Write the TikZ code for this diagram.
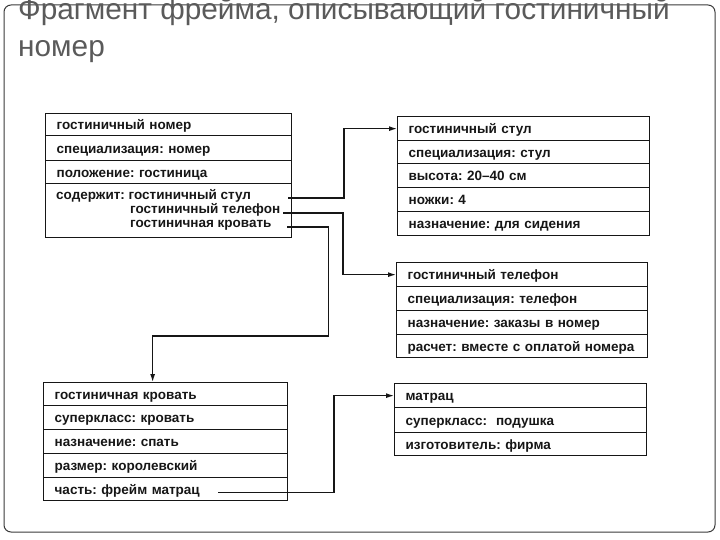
\documentclass[tikz,border=0pt]{standalone}
\usepackage{fontspec}
\setmainfont{Liberation Sans}
\usetikzlibrary{arrows.meta,calc}
\frenchspacing
\definecolor{titlegray}{HTML}{5A5A5A}
\definecolor{ink}{HTML}{161616}
\definecolor{framecol}{HTML}{3A3A3A}
\tikzset{
  frow/.style={draw=ink, line width=1.3pt, anchor=north west, inner xsep=11pt, inner ysep=0pt,
    text height=10pt, text depth=0pt, align=left, text=ink,
    font=\fontsize{13.5}{15}\selectfont\bfseries},
  ftext/.style={anchor=base west, inner sep=0pt, text=ink, font=\fontsize{13.5}{15}\selectfont\bfseries},
  conn/.style={draw=ink, line width=1.2pt, -{Latex[length=8pt,width=5pt]}},
}
\newcommand{\frow}[5]{%
  \pgfmathsetmacro{\frowtw}{#3-22}%
  \node[frow, minimum width=#3pt, text width=\frowtw pt, minimum height=#4pt] (#1) at (#2) {\mbox{#5}};}
\begin{document}
\begin{tikzpicture}[x=1pt,y=-1pt]
\useasboundingbox (0,0) rectangle (720,540);
% outer frame
\draw[draw=framecol, line width=1pt, rounded corners=7pt] (4,5) rectangle (715,532);
% title
\node[anchor=base west, inner sep=0pt, text=titlegray, font=\fontsize{29.8}{34}\selectfont] (title1) at (18,20) {Фрагмент фрейма, описывающий гостиничный};
\node[anchor=base west, inner sep=0pt, text=titlegray, font=\fontsize{29.8}{34}\selectfont] (title2) at (18,57) {номер};

% box 1: гостиничный номер
\frow{r1}{45,113}{246}{22}{гостиничный номер}
\frow{r2}{45,135}{246}{25}{специализация: номер}
\frow{r3}{45,160}{246}{23}{положение: гостиница}
\frow{r4}{45,183}{246}{54}{}
\node[ftext] (r4a) at (56,200) {содержит: гостиничный стул};
\node[ftext] (r4b) at (130,214) {гостиничный телефон};
\node[ftext] (r4c) at (130,228) {гостиничная кровать};

% chair box
\frow{c1}{397,116}{252}{24}{гостиничный стул}
\frow{c2}{397,140}{252}{23}{специализация: стул}
\frow{c3}{397,163}{252}{24}{высота: 20–40 см}
\frow{c4}{397,187}{252}{24}{ножки: 4}
\frow{c5}{397,211}{252}{24}{назначение: для сидения}

% telephone box
\frow{t1}{396,262}{251}{24}{гостиничный телефон}
\frow{t2}{396,286}{251}{24}{специализация: телефон}
\frow{t3}{396,310}{251}{24}{назначение: заказы в номер}
\frow{t4}{396,334}{251}{23}{расчет: вместе с оплатой номера}

% bed box
\frow{b1}{43,382}{244}{23}{гостиничная кровать}
\frow{b2}{43,405}{244}{24}{суперкласс: кровать}
\frow{b3}{43,429}{244}{24}{назначение: спать}
\frow{b4}{43,453}{244}{24}{размер: королевский}
\frow{b5}{43,477}{244}{23}{часть: фрейм матрац}

% mattress box
\frow{m1}{394,383}{252}{24}{матрац}
\frow{m2}{394,407}{252}{25}{суперкласс:\ \ подушка}
\frow{m3}{394,432}{252}{23}{изготовитель: фирма}

% connector start points
\coordinate (cs) at ([xshift=-4pt,yshift=2pt]r4.east |- r4a.base);
\coordinate (ct) at ([xshift=3pt,yshift=1pt]r4b.base east);
\coordinate (cb) at ([xshift=-5pt,yshift=1pt]r4.east |- r4c.base);
\coordinate (cm) at ([xshift=175pt,yshift=-3.5pt]b5.west);

% connectors
\draw[conn] (cs) -| ([xshift=-53pt]c1.west) -- (c1.west);
\draw[conn] (ct) -| ([xshift=-53pt]t1.west) -- (t1.west);
\draw[conn] (cb) -| ($(cb)+(41,109)$) -| ([xshift=-13pt]b1.north);
\draw[conn] (cm) -| ([xshift=-60pt]m1.west) -- (m1.west);
\end{tikzpicture}
\end{document}
